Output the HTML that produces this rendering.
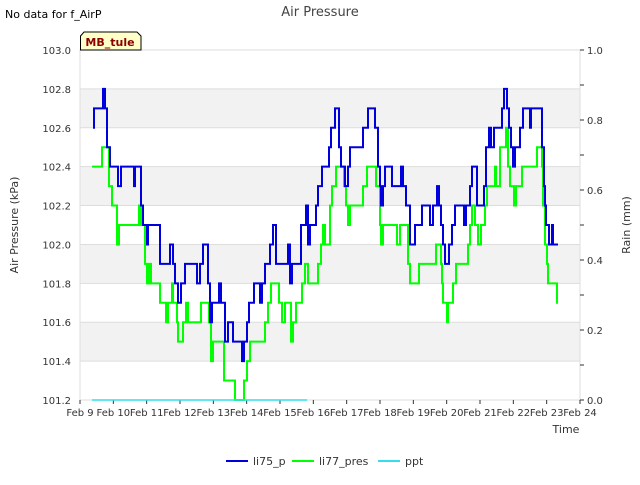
<!DOCTYPE html>
<html><head><meta charset="utf-8"><style>
body{margin:0;background:#fff;font-family:"Liberation Sans",sans-serif}
svg text{font-family:"DejaVu Sans","Liberation Sans",sans-serif}
</style></head><body>
<svg id="c" width="640" height="480" xmlns="http://www.w3.org/2000/svg">
<rect width="640" height="480" fill="#fff"/>
<g id="bands"></g>
<g id="grid"></g>
<rect x="80" y="50" width="500" height="350" fill="none" stroke="#ddd"/>
<g id="axes"></g>
<g id="series"></g>
<text x="320" y="16" text-anchor="middle" font-size="13" fill="#444">Air Pressure</text>
<text x="5" y="18" font-size="11" fill="#000">No data for f_AirP</text>
<g>
<path d="M80.5 50 V36 L84 32 H137 L141 36 V50 Z" fill="#ffffc8" stroke="#000"/>
<text x="110" y="46" text-anchor="middle" font-size="11" font-weight="bold" fill="#8b0000">MB_tule</text></g>
<text transform="translate(18,225) rotate(-90)" text-anchor="middle" font-size="11" fill="#333">Air Pressure (kPa)</text>
<text transform="translate(630,225) rotate(-90)" text-anchor="middle" font-size="11" fill="#333">Rain (mm)</text>
<text x="566" y="433" text-anchor="middle" font-size="11" fill="#333">Time</text>
<g id="legend"></g>
</svg>
<script>
const xTickLabels=["Feb 9","Feb 10","Feb 11","Feb 12","Feb 13","Feb 14","Feb 15","Feb 16","Feb 17","Feb 18","Feb 19","Feb 20","Feb 21","Feb 22","Feb 23","Feb 24"];
const yTicks=[101.2,101.4,101.6,101.8,102.0,102.2,102.4,102.6,102.8,103.0];
const y2Ticks=[0,0.2,0.4,0.6,0.8,1.0];
const bluT=[0.39,0.42,0.69,0.75,0.81,0.9,1.14,1.23,1.62,1.65,1.83,1.89,2.01,2.04,2.4,2.7,2.79,2.85,2.94,3.03,3.15,3.51,3.6,3.69,3.84,3.9,3.96,4.17,4.23,4.35,4.44,4.59,4.86,4.92,5.01,5.07,5.22,5.4,5.46,5.55,5.7,5.79,5.88,6.24,6.3,6.36,6.45,6.63,6.78,6.84,6.9,7.08,7.14,7.26,7.47,7.53,7.65,7.77,7.83,7.95,8.04,8.1,8.19,8.49,8.64,8.85,8.94,9.0,9.03,9.09,9.15,9.36,9.63,9.69,9.78,9.9,10.05,10.26,10.5,10.59,10.71,10.77,10.83,10.89,10.95,11.07,11.16,11.25,11.52,11.58,11.7,11.76,11.91,12.12,12.18,12.27,12.33,12.42,12.66,12.72,12.81,12.87,12.93,12.99,13.05,13.2,13.29,13.5,13.53,13.86,13.92,13.95,13.98,14.07,14.16,14.19,14.34];
const bluV=[102.6,102.7,102.8,102.7,102.5,102.4,102.3,102.4,102.3,102.4,102.2,102.1,102.0,102.1,101.9,102.0,101.9,101.8,101.7,101.8,101.9,101.8,101.9,102.0,101.8,101.6,101.7,101.8,101.7,101.5,101.6,101.5,101.4,101.5,101.6,101.7,101.8,101.7,101.8,101.9,102.0,102.1,101.9,102.0,101.8,101.9,101.9,102.1,102.2,102.0,102.1,102.2,102.3,102.4,102.5,102.6,102.7,102.5,102.4,102.3,102.4,102.5,102.5,102.6,102.7,102.6,102.4,102.3,102.2,102.3,102.4,102.3,102.4,102.3,102.2,102.0,102.1,102.2,102.1,102.2,102.3,102.2,102.1,102.0,101.9,102.0,102.1,102.2,102.1,102.2,102.3,102.4,102.2,102.3,102.5,102.6,102.5,102.6,102.7,102.8,102.7,102.6,102.5,102.4,102.5,102.6,102.7,102.6,102.7,102.5,102.3,102.2,102.1,102.0,102.1,102.0,102.0];
const grnT=[0.36,0.66,0.87,0.96,1.11,1.17,1.77,1.83,1.95,2.01,2.07,2.13,2.4,2.58,2.64,2.76,2.79,2.91,2.94,3.09,3.18,3.24,3.63,3.87,3.93,3.99,4.32,4.65,4.92,5.01,5.1,5.55,5.64,5.73,5.97,6.06,6.15,6.33,6.39,6.48,6.66,6.75,6.84,7.14,7.23,7.29,7.35,7.5,7.56,7.68,7.92,7.98,8.04,8.1,8.49,8.61,8.88,9.0,9.03,9.09,9.51,9.6,9.84,9.9,10.17,10.68,10.83,10.86,10.89,11.01,11.04,11.19,11.28,11.64,11.7,11.76,11.85,11.94,12.03,12.15,12.21,12.45,12.48,12.6,12.78,12.84,12.9,13.02,13.08,13.26,13.71,13.86,13.89,13.95,14.01,14.04,14.31,14.34];
const grnV=[102.4,102.5,102.3,102.2,102.0,102.1,102.2,102.1,101.9,101.8,101.9,101.8,101.7,101.6,101.7,101.8,101.7,101.6,101.5,101.6,101.7,101.6,101.7,101.6,101.4,101.5,101.3,101.2,101.3,101.4,101.5,101.6,101.7,101.8,101.7,101.6,101.7,101.5,101.6,101.7,101.8,101.9,101.8,101.9,102.0,102.1,102.0,102.2,102.3,102.4,102.3,102.2,102.1,102.2,102.3,102.4,102.3,102.1,102.0,102.1,102.0,102.1,101.9,101.8,101.9,102.0,101.9,101.8,101.7,101.6,101.7,101.8,101.9,102.0,102.1,102.2,102.1,102.0,102.1,102.2,102.3,102.4,102.3,102.5,102.6,102.4,102.3,102.2,102.3,102.4,102.5,102.4,102.2,102.0,101.9,101.8,101.7,101.7];
const pptT=[0.36,6.81];
const pptV=[0,0];
const NS="http://www.w3.org/2000/svg";
const X=d=>80+d*500/15, Y=v=>400-(v-101.2)*350/1.8, Y2=v=>400-v*350;
function mk(t,a,p){const e=document.createElementNS(NS,t);for(const k in a)e.setAttribute(k,a[k]);p.appendChild(e);return e;}
const bands=document.getElementById('bands'),grid=document.getElementById('grid'),axes=document.getElementById('axes'),ser=document.getElementById('series'),leg=document.getElementById('legend');
for(let i=0;i<yTicks.length-1;i+=2){const b=mk('rect',{x:80,y:Y(yTicks[i+2]||103.0),width:500,height:Y(yTicks[i+1])-Y(yTicks[i+2]||103)},bands);}
bands.innerHTML='';
[[101.4,101.6],[101.8,102.0],[102.2,102.4],[102.6,102.8]].forEach(p=>{const b=mk('rect',{x:80,y:Y(p[1]),width:500,height:Y(p[0])-Y(p[1]),fill:'#f2f2f2'},bands);

});
yTicks.forEach(v=>{const l=mk('line',{x1:80,x2:580,y1:Y(v),y2:Y(v),stroke:'#ddd'},grid);


const t=mk('text',{x:71,y:Y(v)+4,'text-anchor':'end','font-size':10,fill:'#333'},axes);t.textContent=v.toFixed(1);

});
for(let i=0;i<=10;i++){mk('line',{x1:580,x2:584,y1:Y2(i/10),y2:Y2(i/10),stroke:'#333'},axes);}
y2Ticks.forEach(v=>{const t=mk('text',{x:587,y:Y2(v)+4,'font-size':10,fill:'#333'},axes);t.textContent=v.toFixed(1);

});
xTickLabels.forEach((s,i)=>{mk('line',{x1:X(i),x2:X(i),y1:400,y2:404,stroke:'#333'},axes);
const t=mk('text',{x:X(i),y:416,'text-anchor':'middle','font-size':10,fill:'#333'},axes);t.textContent=s;

});
function step(T,V,yf){let d='M'+X(T[0])+' '+yf(V[0]);for(let i=1;i<T.length;i++){d+=' H'+X(T[i])+' V'+yf(V[i]);}return d;}
const g=mk('path',{d:step(grnT,grnV,Y),fill:'none',stroke:'#00ff00','stroke-width':2},ser);


const b=mk('path',{d:step(bluT,bluV,Y),fill:'none',stroke:'#0000dd','stroke-width':2},ser);


const p=mk('path',{d:step(pptT,pptV,Y2),fill:'none',stroke:'#33ddee','stroke-width':1.5},ser);


[['li75_p','#0000dd',226],['li77_pres','#00ff00',292],['ppt','#33ddee',378]].forEach(e=>{const gg=mk('g',{},leg);


mk('line',{x1:e[2],x2:e[2]+22,y1:461,y2:461,stroke:e[1],'stroke-width':2},gg);
const t=mk('text',{x:e[2]+27,y:465,'font-size':11,fill:'#333'},gg);t.textContent=e[0];});
</script>
</body></html>
